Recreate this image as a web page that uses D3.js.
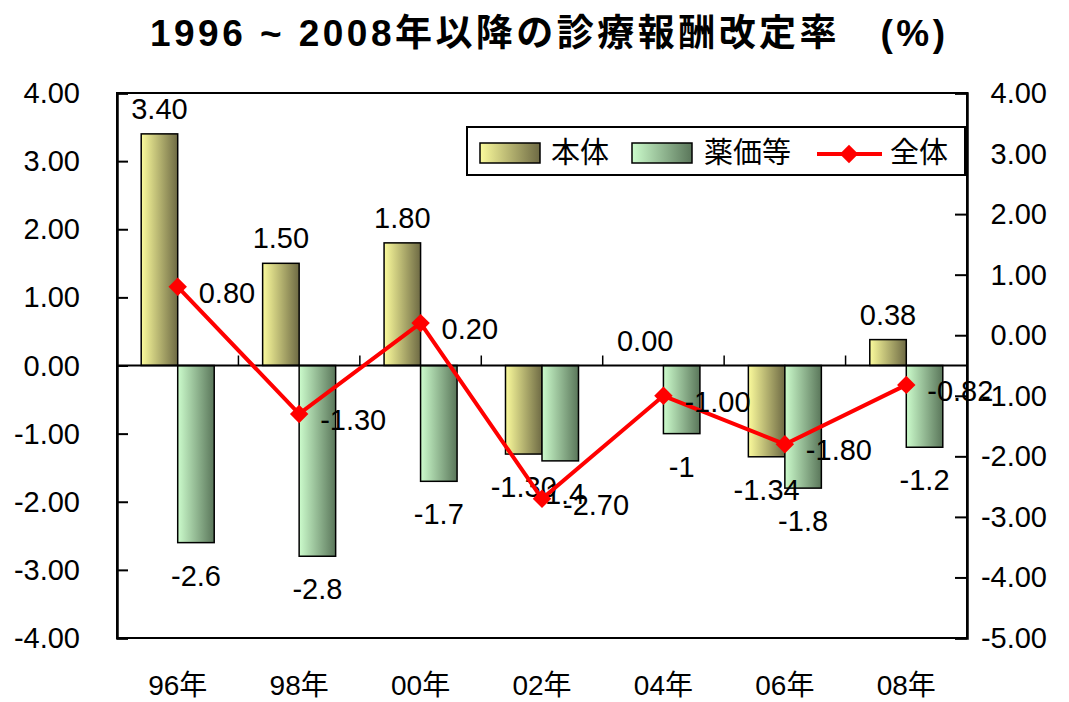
<!DOCTYPE html>
<head>
  <meta charset="utf-8">
  <style>
    body { margin: 0; background: #fff; }
    svg text { font-family: "Liberation Sans", Arial, "Noto Sans CJK JP", sans-serif; fill: #000; }
    .title { font-family: "Liberation Sans", Arial, "Noto Sans CJK JP", sans-serif; font-weight: bold; }
  </style>
</head>
<body>
  <svg width="1069" height="702" id="chart"></svg>
  <script src="https://d3js.org/d3.v7.min.js"></script>
  <script>
    // data
    let years = ["96年", "98年", "00年", "02年", "04年", "06年", "08年"];
    let series = ["本体", "薬価等"];
    let honntai = [3.40, 1.50, 1.80, -1.30, 0.00, -1.34, 0.38];
    let yakka = [-2.6, -2.8, -1.7, -1.4, -1, -1.8, -1.2];
    let zentai = [0.80, -1.30, 0.20, -2.70, -1.00, -1.80, -0.82];
    let leftTicks = [-4, -3, -2, -1, 0, 1, 2, 3, 4];
    let rightTicks = [-5, -4, -3, -2, -1, 0, 1, 2, 3, 4];

    let svg = d3.select("#chart"),
        L = 117, R = 967, T = 93, B = 638;

    // hyphen minus like the original
    let fmt = d3.formatLocale({ decimal: ".", thousands: ",", grouping: [3], currency: ["", ""], minus: "-" }).format(".2f");

    let x0 = d3.scaleBand().domain(years).range([L, R]),
        x1 = d3.scaleBand().domain(series)
          .range([x0.bandwidth() / 2 - 36.5, x0.bandwidth() / 2 + 36.5]),
        yL = d3.scaleLinear().domain([-4, 4]).range([B, T]),
        yR = d3.scaleLinear().domain([-5, 4]).range([B, T]);

    let defs = svg.append("defs");
    function grad(id, c1, c2) {
      let g = defs.append("linearGradient").attr("id", id)
        .attr("x1", "0%").attr("x2", "100%").attr("y1", "0%").attr("y2", "0%");
      g.append("stop").attr("offset", "0%").attr("stop-color", c1);
      g.append("stop").attr("offset", "100%").attr("stop-color", c2);
    }
    grad("gY", "#fbfb9c", "#6e6a44");
    grad("gG", "#ccfccc", "#5a765a");
    let fills = { "本体": "url(#gY)", "薬価等": "url(#gG)" };

    // title
    svg.append("text").attr("class", "title")
      .attr("x", 150).attr("y", 46)
      .attr("textLength", 795)
      .attr("lengthAdjust", "spacing")
      .style("font-size", "37px")
      .text("1996 ~ 2008年以降の診療報酬改定率　(%)");

    // bars
    let rows = years.map((y, i) => ({ year: y, vals: [
      { s: "本体", v: honntai[i] }, { s: "薬価等", v: yakka[i] }] }));

    let groups = svg.append("g").selectAll("g")
      .data(rows).enter().append("g")
      .attr("transform", d => `translate(${x0(d.year)},0)`);

    groups.selectAll("rect")
      .data(d => d.vals).enter().append("rect")
      .attr("x", d => x1(d.s))
      .attr("width", x1.bandwidth())
      .attr("y", d => yL(Math.max(0, d.v)))
      .attr("height", d => Math.abs(yL(d.v) - yL(0)))
      .attr("fill", d => fills[d.s])
      .attr("stroke", "#000")
      .attr("stroke-width", 1.5);

    // frame
    svg.append("rect")
      .attr("x", L).attr("y", T).attr("width", R - L).attr("height", B - T)
      .attr("fill", "none").attr("stroke", "#000").attr("stroke-width", 2);

    // left axis
    svg.append("g")
      .attr("transform", `translate(${L},0)`)
      .call(d3.axisRight(yL).tickValues(leftTicks).tickSize(11).tickFormat(""))
      .call(g => g.select(".domain").attr("stroke-width", 2.5))
      .call(g => g.selectAll(".tick line").attr("stroke-width", 2));
    svg.append("g").selectAll("text")
      .data(leftTicks).enter().append("text")
      .attr("x", 80).attr("y", d => yL(d) + 10)
      .attr("text-anchor", "end")
      .style("font-size", "29px")
      .text(d => fmt(d));

    // right axis
    svg.append("g")
      .attr("transform", `translate(${R},0)`)
      .call(d3.axisLeft(yR).tickValues(rightTicks).tickSize(12).tickFormat(""))
      .call(g => g.select(".domain").attr("stroke-width", 2.5))
      .call(g => g.selectAll(".tick line").attr("stroke-width", 2));
    svg.append("g").selectAll("text")
      .data(rightTicks).enter().append("text")
      .attr("x", 1047).attr("y", d => yR(d) + 10)
      .attr("text-anchor", "end")
      .style("font-size", "29px")
      .text(d => fmt(d));

    // category axis at zero
    svg.append("line")
      .attr("x1", L).attr("x2", R).attr("y1", yL(0)).attr("y2", yL(0))
      .attr("stroke", "#000").attr("stroke-width", 2);
    svg.append("g").selectAll("line")
      .data(years.slice(1)).enter().append("line")
      .attr("x1", d => x0(d)).attr("x2", d => x0(d))
      .attr("y1", yL(0)).attr("y2", yL(0) - 10)
      .attr("stroke", "#000").attr("stroke-width", 1.5);

    // category labels
    svg.append("g").selectAll("text")
      .data(years).enter().append("text")
      .attr("x", d => x0(d) + x0.bandwidth() / 2)
      .attr("y", 695)
      .attr("text-anchor", "middle")
      .style("font-size", "28px")
      .text(d => d);

    // bar labels
    groups.selectAll("text")
      .data(d => d.vals).enter().append("text")
      .attr("x", d => x1(d.s) + x1.bandwidth() / 2)
      .attr("y", d => d.v >= 0 ? yL(d.v) - 15 : yL(d.v) + 43)
      .attr("text-anchor", "middle")
      .style("font-size", "29px")
      .text(d => d.s === "本体" ? fmt(d.v) : String(d.v));

    // line 全体 on right axis
    let cx = d => x0(d) + x0.bandwidth() / 2;
    let pts = years.map((y, i) => [cx(y), yR(zentai[i])]);
    svg.append("path")
      .attr("d", d3.line()(pts))
      .attr("fill", "none").attr("stroke", "#ff0000").attr("stroke-width", 4);
    svg.append("g").selectAll("path")
      .data(pts).enter().append("path")
      .attr("transform", d => `translate(${d[0]},${d[1]}) rotate(45)`)
      .attr("d", d3.symbol().type(d3.symbolSquare).size(170))
      .attr("fill", "#ff0000");
    svg.append("g").selectAll("text")
      .data(zentai).enter().append("text")
      .attr("x", (d, i) => pts[i][0] + 21)
      .attr("y", (d, i) => pts[i][1] + 16)
      .style("font-size", "29px")
      .text(d => fmt(d));

    // legend
    let lg = svg.append("g");
    lg.append("rect").attr("x", 467).attr("y", 127).attr("width", 498).attr("height", 48)
      .attr("fill", "#fff").attr("stroke", "#000").attr("stroke-width", 2);
    lg.append("rect").attr("x", 480).attr("y", 143).attr("width", 60).attr("height", 20)
      .attr("fill", "url(#gY)").attr("stroke", "#000").attr("stroke-width", 1.5);
    lg.append("text").attr("x", 551).attr("y", 163).style("font-size", "29px").text(series[0]);
    lg.append("rect").attr("x", 632).attr("y", 143).attr("width", 60).attr("height", 20)
      .attr("fill", "url(#gG)").attr("stroke", "#000").attr("stroke-width", 1.5);
    lg.append("text").attr("x", 704).attr("y", 163).style("font-size", "29px").text(series[1]);
    lg.append("line").attr("x1", 817).attr("x2", 882).attr("y1", 154).attr("y2", 154)
      .attr("stroke", "#ff0000").attr("stroke-width", 4);
    lg.append("path").attr("transform", "translate(849,154) rotate(45)")
      .attr("d", d3.symbol().type(d3.symbolSquare).size(170)).attr("fill", "#ff0000");
    lg.append("text").attr("x", 890).attr("y", 163).style("font-size", "29px").text("全体");
  </script>
</body>
